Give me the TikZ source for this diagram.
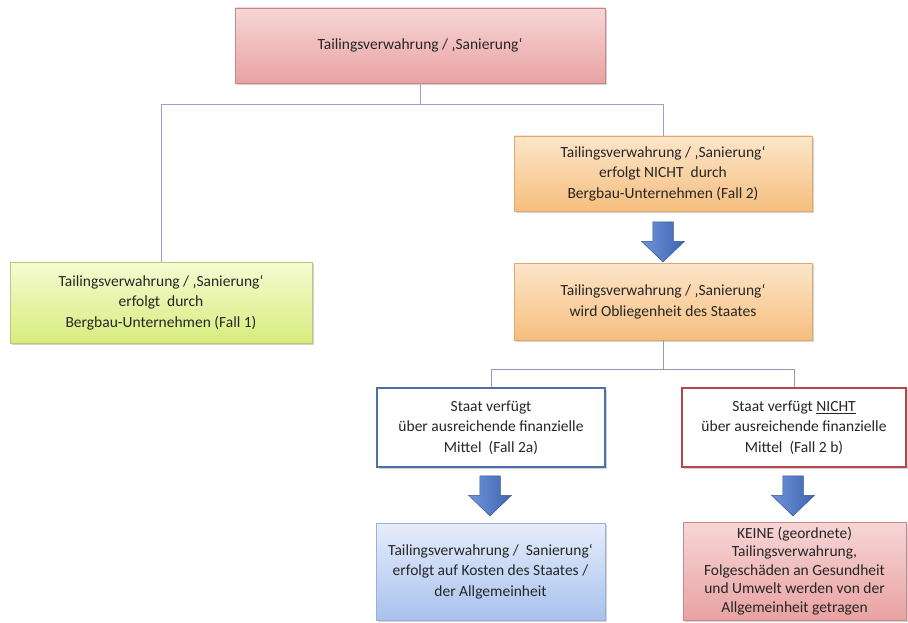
\documentclass[tikz,border=0pt]{standalone}
\usepackage{fontspec}
\setmainfont{Carlito}
\usetikzlibrary{positioning, shapes.arrows, shadows}

\definecolor{linkblue}{HTML}{9A9FD6}
\definecolor{linkgray}{HTML}{8F9AB8}
\definecolor{arrowlight}{HTML}{6F95DA}
\definecolor{arrowdark}{HTML}{3D64B0}
\definecolor{txt}{HTML}{262626}
\definecolor{redtop}{HTML}{F7D6D6}
\definecolor{redbot}{HTML}{E9A2A2}
\definecolor{redrim}{HTML}{C98686}
\definecolor{greentop}{HTML}{F6FBD2}
\definecolor{greenbot}{HTML}{D8EC7E}
\definecolor{greenrim}{HTML}{B9C97A}
\definecolor{orangetop}{HTML}{FDE6CA}
\definecolor{orangebot}{HTML}{F5BE7E}
\definecolor{orangerim}{HTML}{DDAA72}
\definecolor{bluetop}{HTML}{E6EDFB}
\definecolor{bluebot}{HTML}{A9C1EE}
\definecolor{bluerim}{HTML}{9CB0D6}
\definecolor{blueedge}{HTML}{4F6FAA}
\definecolor{rededge}{HTML}{B5474A}

\tikzset{
  box/.style={draw, align=center, text=txt, inner sep=2pt,
    font=\fontsize{15.5}{20.5}\selectfont,
    drop shadow={shadow xshift=1.5pt, shadow yshift=-2pt, opacity=0.35}},
  redbox/.style={box, draw=redrim, top color=redtop, bottom color=redbot},
  greenbox/.style={box, draw=greenrim, top color=greentop, bottom color=greenbot},
  orangebox/.style={box, draw=orangerim, top color=orangetop, bottom color=orangebot},
  bluebox/.style={box, draw=bluerim, top color=bluetop, bottom color=bluebot},
  blueline/.style={box, draw=blueedge, line width=1.6pt, fill=white},
  redline/.style={box, draw=rededge, line width=1.6pt, fill=white},
  downarrow/.style={single arrow, draw=arrowdark!85!black, line width=0.5pt,
    left color=arrowlight, right color=arrowdark, rotate=-90,
    minimum height=40pt, inner xsep=0pt, inner ysep=10pt,
    single arrow head extend=11pt, single arrow tip angle=92},
  link/.style={linkblue, line width=0.8pt},
  link2/.style={linkgray, line width=0.8pt}
}

\begin{document}
\begin{tikzpicture}[x=1pt, y=-1pt]
  \useasboundingbox (0,0) rectangle (908,623);
  % top level
  \node[redbox, minimum width=370pt, minimum height=75pt] (tv) at (420,45.5)
    {Tailingsverwahrung / ‚Sanierung‘};
  % Fall 1 and Fall 2
  \node[greenbox, minimum width=302pt, minimum height=81pt] (fall1) at (161,302.5)
    {Tailingsverwahrung / ‚Sanierung‘\\erfolgt\ \ durch\\Bergbau-Unternehmen (Fall 1)};
  \node[orangebox, minimum width=298pt, minimum height=75pt] (fall2) at (663,173.5)
    {Tailingsverwahrung / ‚Sanierung‘\\erfolgt NICHT\ \ durch\\Bergbau-Unternehmen (Fall 2)};
  \node[downarrow] (pfeil1) at (663,237) {};
  \node[orangebox, minimum width=298pt, minimum height=77pt] (staat) at (663,301.5)
    {Tailingsverwahrung / ‚Sanierung‘\\wird Obliegenheit des Staates};
  % Fall 2a and Fall 2b
  \node[blueline, minimum width=228pt, minimum height=79pt] (fall2a) at (491,427.5)
    {Staat verfügt\\über ausreichende finanzielle\\Mittel\ \ (Fall 2a)};
  \node[redline, minimum width=224pt, minimum height=79pt] (fall2b) at (794,427.5)
    {Staat verfügt \underline{NICHT}\\über ausreichende finanzielle\\Mittel\ \ (Fall 2 b)};
  \node[downarrow] (pfeil2) at (490,491) {};
  \node[downarrow] (pfeil3) at (793,491) {};
  % results
  \node[bluebox, minimum width=229pt, minimum height=97pt] (kosten) at (490.5,571.5)
    {Tailingsverwahrung /\ \ Sanierung‘\\erfolgt auf Kosten des Staates /\\der Allgemeinheit};
  \node[redbox, minimum width=223pt, minimum height=98pt,
    font=\fontsize{15.5}{18.5}\selectfont] (keine) at (794.5,571)
    {KEINE (geordnete)\\Tailingsverwahrung,\\Folgeschäden an Gesundheit\\und Umwelt werden von der\\Allgemeinheit getragen};
  % connectors
  \coordinate (split1) at (420,104);
  \draw[link] (tv) -- (split1);
  \draw[link] (split1) -| (fall1);
  \draw[link] (split1) -| (fall2);
  \coordinate (split2) at (663,369);
  \draw[link2] (staat) -- (split2);
  \draw[link2] (split2) -| (fall2a);
  \draw[link2] (split2) -| (fall2b);
\end{tikzpicture}
\end{document}
